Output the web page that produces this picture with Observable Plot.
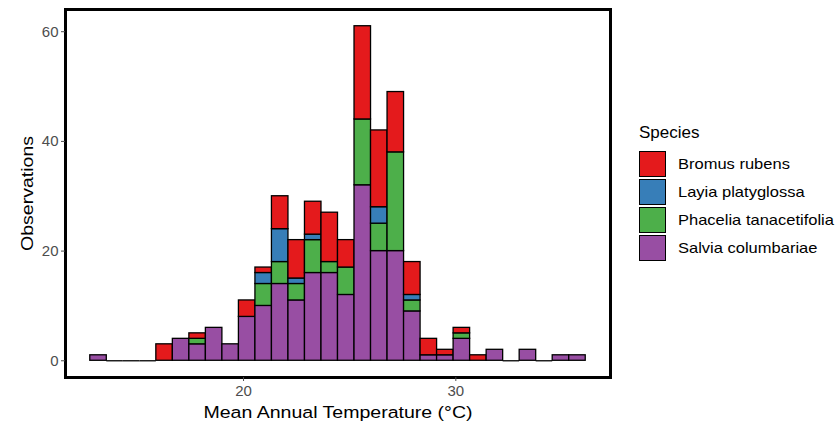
<!DOCTYPE html>
<html>
<head>
<meta charset="utf-8">
<script src="https://cdn.jsdelivr.net/npm/d3@7"></script>
<script src="https://cdn.jsdelivr.net/npm/@observablehq/plot@0.6"></script>
<style>
  html, body { margin: 0; padding: 0; background: #fff; }
  #wrap { position: relative; width: 838px; height: 425px; font-family: "Liberation Sans", Arial, Helvetica, sans-serif; }
  #legend { position: absolute; left: 639px; top: 0; color: #000; }
  #legend .title { position: absolute; left: 0; top: 123px; font-size: 17px; white-space: nowrap; }
  #legend .sw { position: absolute; left: 0; width: 25px; height: 24px; border: 1.3px solid #000; }
  #legend .lab { position: absolute; left: 39px; font-size: 15px; white-space: nowrap; line-height: 26px;
                 transform: scaleX(1.1); transform-origin: left center; }
</style>
</head>
<body>
<div id="wrap"></div>
<script>
// ---- data (30 histogram bins) ----
const binLo = 12.78;      // left edge of the first bin (°C)
const binWidth = 0.778;   // bin width (°C)

const speciesNames = ["Bromus rubens", "Layia platyglossa", "Phacelia tanacetifolia", "Salvia columbariae"];
const speciesColors = ["#E41A1C", "#377EB8", "#4DAF4A", "#984EA3"];

const bromus   = [0,0,0,0,3,0,1,0,0,3,1,6,7,6,9,5,17,14,11,6,3,1,1,1,0,0,0,0,0,0];
const layia    = [0,0,0,0,0,0,0,0,0,0,2,6,1,1,0,0,0,3,0,1,0,0,0,0,0,0,0,0,0,0];
const phacelia = [0,0,0,0,0,0,1,0,0,0,4,4,3,6,2,5,12,5,18,2,0,0,1,0,0,0,0,0,0,0];
const salvia   = [1,0,0,0,0,4,3,6,3,8,10,14,11,16,16,12,32,20,20,9,1,1,4,0,2,0,2,0,1,1];

const xTicks = [20, 30];
const yTicks = [0, 20, 40, 60];

// ---- build stacked table (bottom to top: Salvia, Phacelia, Layia, Bromus) ----
const stackOrder = [
  [speciesNames[3], salvia],
  [speciesNames[2], phacelia],
  [speciesNames[1], layia],
  [speciesNames[0], bromus]
];
const rows = [];
const zeroRows = [];
for (let i = 0; i < salvia.length; i++) {
  const x1 = binLo + i * binWidth, x2 = binLo + (i + 1) * binWidth;
  let base = 0;
  for (const [name, arr] of stackOrder) {
    const c = arr[i];
    if (c > 0) { rows.push({x1, x2, y1: base, y2: base + c, species: name}); base += c; }
  }
  if (base === 0) zeroRows.push({x1, x2});
}

const allMax = d3.max(rows, d => d.y2);
const xmin = binLo, xmax = binLo + salvia.length * binWidth;
const xpad = (xmax - xmin) * 0.05, ypad = allMax * 0.05;

const chart = Plot.plot({
  width: 838,
  height: 425,
  marginLeft: 65,
  marginRight: 228,
  marginTop: 9,
  marginBottom: 48,
  style: { fontFamily: "Liberation Sans, Arial, Helvetica, sans-serif", background: "#fff" },
  x: { domain: [xmin - xpad, xmax + xpad] },
  y: { domain: [-ypad, allMax + ypad] },
  color: { domain: speciesNames, range: speciesColors },
  marks: [
    Plot.rect(rows, { x1: "x1", x2: "x2", y1: "y1", y2: "y2", fill: "species", stroke: "#000", strokeWidth: 1.3 }),
    Plot.ruleY(zeroRows, { x1: "x1", x2: "x2", y: 0, stroke: "#000", strokeWidth: 1.3 }),
    Plot.frame({ stroke: "#000", strokeWidth: 3 }),
    Plot.axisX({ ticks: xTicks, tickSize: 4, tickPadding: 4, fontSize: 15, color: "#4D4D4D", label: null }),
    Plot.axisY({ ticks: yTicks, tickSize: 4, tickPadding: 3, fontSize: 15, color: "#4D4D4D", label: null }),
    Plot.text(["Mean Annual Temperature (°C)"], { frameAnchor: "bottom", dy: 40, fontSize: 17, fill: "#000", className: "xtitle" }),
    Plot.text(["Observations"], { frameAnchor: "left", textAnchor: "middle", lineAnchor: "middle", dx: -38, rotate: -90, fontSize: 17, fill: "#000", className: "ytitle" })
  ]
});

// widen the axis titles along their reading direction, as in the reference
chart.querySelectorAll(".xtitle text, .ytitle text").forEach(el => {
  const t = el.getAttribute("transform") || "";
  el.setAttribute("transform", (t + " scale(1.15,1)").trim());
});

const wrap = document.getElementById("wrap");
wrap.appendChild(chart);

// ---- legend ----
const legend = document.createElement("div");
legend.id = "legend";
let html = '<div class="title">Species</div>';
speciesNames.forEach((name, i) => {
  const top = 151 + i * 28;
  html += `<div class="sw" style="top:${top}px;background:${speciesColors[i]}"></div>`;
  html += `<div class="lab" style="top:${top}px">${name}</div>`;
});
legend.innerHTML = html;
wrap.appendChild(legend);
</script>
</body>
</html>
